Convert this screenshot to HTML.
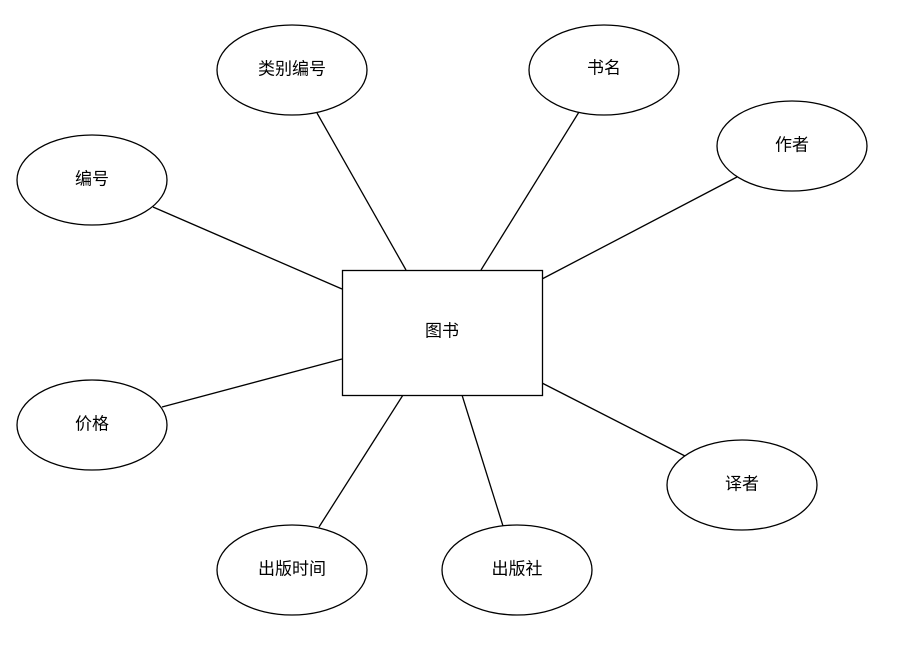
<!DOCTYPE html>
<html><head><meta charset="utf-8"><style>
html,body{margin:0;padding:0;background:#fff;}
svg{display:block;}
text{font-family:"Liberation Sans","Noto Sans CJK SC",sans-serif;font-size:17px;fill:#000;}
</style></head><body>
<svg width="899" height="651" viewBox="0 0 899 651" xmlns="http://www.w3.org/2000/svg">
<g stroke="#000" stroke-width="1.3" fill="none">
<line x1="317" y1="113" x2="406" y2="270"/>
<line x1="579" y1="112" x2="481" y2="270"/>
<line x1="737" y1="177" x2="542" y2="279"/>
<line x1="153" y1="207" x2="342" y2="289"/>
<line x1="162" y1="407" x2="342" y2="359"/>
<line x1="319" y1="527" x2="403" y2="395"/>
<line x1="503" y1="526" x2="462" y2="395"/>
<line x1="685" y1="456" x2="542" y2="383"/>
<rect x="342.5" y="270.5" width="200" height="125" fill="#fff"/>
<ellipse cx="292" cy="70" rx="75" ry="45" fill="#fff"/>
<ellipse cx="604" cy="70" rx="75" ry="45" fill="#fff"/>
<ellipse cx="792" cy="146" rx="75" ry="45" fill="#fff"/>
<ellipse cx="92" cy="180" rx="75" ry="45" fill="#fff"/>
<ellipse cx="92" cy="425" rx="75" ry="45" fill="#fff"/>
<ellipse cx="292" cy="570" rx="75" ry="45" fill="#fff"/>
<ellipse cx="517" cy="570" rx="75" ry="45" fill="#fff"/>
<ellipse cx="742" cy="485" rx="75" ry="45" fill="#fff"/>
</g>
<g text-anchor="middle" dominant-baseline="central">
<text x="442" y="331">图书</text>
<text x="292" y="69">类别编号</text>
<text x="604" y="68">书名</text>
<text x="792" y="145">作者</text>
<text x="92" y="179">编号</text>
<text x="92" y="424">价格</text>
<text x="292" y="569">出版时间</text>
<text x="517" y="569">出版社</text>
<text x="742" y="484">译者</text>
</g>
</svg>
</body></html>
